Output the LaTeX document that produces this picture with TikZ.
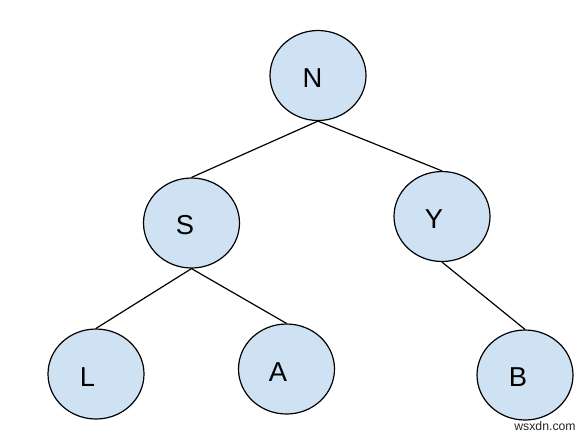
\documentclass[tikz,border=0pt]{standalone}
\usepackage{fontspec}
\setmainfont{Liberation Sans}
\usetikzlibrary{shapes.geometric}
\definecolor{nodefill}{HTML}{CFE2F3}
\begin{document}
\begin{tikzpicture}[x=0.75pt,y=-0.75pt,
  treenode/.style={ellipse,draw=black,line width=0.9pt,fill=nodefill,
    minimum width=72pt,minimum height=67.5pt,inner sep=0pt},
  nodelabel/.style={anchor=base,inner sep=0pt,font=\fontsize{20.5}{24}\selectfont},
  edge/.style={draw=black,line width=0.9pt}]
\useasboundingbox (0,0) rectangle (588,437);
\node[treenode] (N) at (318,75.5) {};
\node[treenode] (S) at (191.5,223) {};
\node[treenode] (Y) at (442,216.5) {};
\node[treenode] (L) at (96,374) {};
\node[treenode] (A) at (286.5,369) {};
\node[treenode] (B) at (525,375) {};
\node[nodelabel] (tN) at (312.5,87.5) {N};
\node[nodelabel] (tS) at (185,234.5) {S};
\node[nodelabel] (tY) at (434,228.5) {Y};
\node[nodelabel] (tL) at (87.5,386.5) {L};
\node[nodelabel] (tA) at (278,381) {A};
\node[nodelabel] (tB) at (518,386.5) {B};
\draw[edge] (N.south) -- (S.north);
\draw[edge] (N.south) -- (Y.north);
\draw[edge] (S.south) -- (L.north);
\draw[edge] (S.south) -- (A.north);
\draw[edge] (Y.south) -- (B.north);
\node[font=\fontsize{9.2}{11}\selectfont,text=black!85,inner sep=0pt] (wm) at (545,426) {wsxdn.com};
\end{tikzpicture}
\end{document}
